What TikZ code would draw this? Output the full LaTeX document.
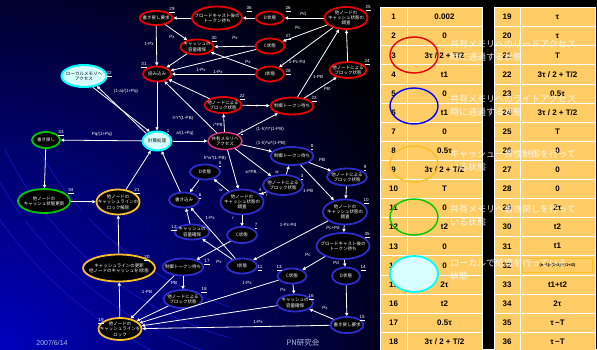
\documentclass[tikz,border=0pt]{standalone}
\usepackage{fontspec}
\setmainfont{Liberation Sans}
\newfontfamily\jp{Noto Sans CJK JP}
\usetikzlibrary{shapes.geometric,arrows.meta}
\definecolor{stred}{RGB}{235,0,0}
\definecolor{stblue}{RGB}{45,45,205}
\definecolor{stgreen}{RGB}{0,200,0}
\definecolor{storange}{RGB}{250,190,40}
\definecolor{stpink}{RGB}{225,50,125}
\definecolor{stcyan}{RGB}{0,255,255}
\definecolor{cyanfill}{RGB}{215,255,255}
\definecolor{cellbg}{RGB}{255,204,102}
\definecolor{bgblue}{RGB}{0,0,190}
\definecolor{arcblue}{RGB}{20,20,190}
\definecolor{dotblue}{RGB}{0,0,125}
\definecolor{foot}{RGB}{175,195,230}

\begin{document}
\begin{tikzpicture}[x=1pt,y=-1pt,
    st/.style={ellipse, line width=1.8pt, fill=black, inner sep=0pt},
    redst/.style={st, draw=stred},
    bluest/.style={st, draw=stblue},
    greenst/.style={st, draw=stgreen},
    orangest/.style={st, draw=storange},
    pinkst/.style={st, draw=stpink, line width=1.4pt},
    cyanst/.style={st, draw=stcyan, fill=cyanfill, line width=2pt},
    sz/.style 2 args={minimum width=#1, minimum height=#2},
    txt/.style={text=white, font=\jp\fontsize{4.5}{5.3}\selectfont, align=center, inner sep=0pt},
    dtxt/.style={txt, text=black},
    numlab/.style={text=white, font=\fontsize{4.5}{5}\selectfont, inner sep=0.3pt},
    elab/.style={text=white, font=\fontsize{4.5}{5}\selectfont, inner sep=0pt},
    conn/.style={draw=white, line width=0.8pt, -{Triangle[length=3.2pt,width=3.2pt]}},
    cell/.style={fill=cellbg, draw=white, line width=0.7pt},
    celltxt/.style={font=\bfseries\fontsize{8}{9}\selectfont, text=black, inner sep=0pt},
    key/.style={ellipse, line width=1.4pt, minimum width=48, minimum height=36},
    keytxt/.style={anchor=west, align=left, text=white, text opacity=0.85,
      font=\jp\fontsize{9}{13}\selectfont, inner sep=0pt},
    foottxt/.style={text=foot, font=\fontsize{7}{8}\selectfont, inner sep=0pt}]

  \useasboundingbox (0,0) rectangle (597,349);
  % background
  \fill[black] (0,0) rectangle (597,349);
  \begin{scope}
    \clip (0,0) rectangle (597,349);
    \shade[inner color=bgblue, outer color=black] (0,349) circle (460);
  \end{scope}
  \begin{scope}
    \clip (0,150) rectangle (230,349);
    \draw[arcblue, line width=0.7pt] (330,-10) circle (332) (330,-10) circle (362)
      (330,-10) circle (382) (330,-10) circle (402);
    \fill[dotblue] (23,217) circle (4) (88,212) circle (6) (164,335) circle (5);
  \end{scope}

  % read side
  \node[redst, sz={33}{14}, label={[txt]center:書き戻し要求}] (n29) at (156,18) {};
  \node[redst, sz={50}{23}, label={[txt]center:{ブロードキャスト後の\\トークン待ち}}] (n36) at (217,18) {};
  \node[redst, sz={28}{13}, label={[txt]center:D状態}] (n26) at (270,18) {};
  \node[redst, sz={43}{22}, label={[txt]center:{他ノードの\\キャッシュ状態の\\調査}}] (n25) at (346,18) {};
  \node[redst, sz={33}{15}, label={[txt]center:{キャッシュの\\容量確保}}] (n30) at (197,47) {};
  \node[redst, sz={29}{15}, label={[txt]center:C状態}] (n27) at (270,46) {};
  \node[redst, sz={28}{15}, label={[txt]center:I状態}] (n28) at (270,74) {};
  \node[redst, sz={28}{15}, label={[txt]center:読み込み}] (n31) at (157,74) {};
  \node[redst, sz={37}{16}, label={[txt]center:{他ノードによる\\ブロック状態}}] (n22) at (223,105) {};
  \node[redst, sz={43}{17}, label={[txt]center:制御トークン待ち}] (n23) at (292,106) {};
  \node[redst, sz={37}{16}, label={[txt]center:{他ノードによる\\ブロック状態}}] (n24) at (348,70) {};

  % local, compute, shared access
  \node[cyanst, sz={45}{22}, label={[dtxt]center:{ローカルメモリへ\\アクセス}}] (n32) at (84,76) {};
  \node[cyanst, sz={29}{19}, label={[dtxt]center:計算処理}] (n1) at (157,141) {};
  \node[pinkst, sz={34}{17}, label={[txt]center:{共有メモリへ\\アクセス}}] (n2) at (225,141) {};

  % write back, coherence
  \node[greenst, sz={28}{16}, label={[txt]center:書き戻し}] (n33) at (46,140) {};
  \node[greenst, sz={52}{24}, label={[txt]center:{他ノードの\\キャッシュ状態更新}}] (n34) at (44,201) {};
  \node[orangest, sz={43}{25}, label={[txt]center:{他ノードの\\キャッシュラインの\\ロック解除}}] (n21) at (118,202) {};
  \node[orangest, sz={72}{27}, label={[txt]center:{キャッシュラインの更新\\他ノードのキャッシュをI状態}}] (n20) at (119,268) {};
  \node[orangest, sz={43}{22}, label={[txt]center:{他ノードの\\キャッシュラインを\\ロック}}] (n19) at (120,329) {};

  % write side
  \node[bluest, sz={43}{18}, label={[txt]center:制御トークン待ち}] (n8) at (292,156) {};
  \node[bluest, sz={30}{15}, label={[txt]center:D状態}] (n5) at (205,172) {};
  \node[bluest, sz={40}{20}, label={[txt]center:{他ノードによる\\ブロック状態}}] (n3) at (283,185) {};
  \node[bluest, sz={40}{17}, label={[txt]center:{他ノードによる\\ブロック状態}}] (n9) at (347,177) {};
  \node[bluest, sz={43}{25}, label={[txt]center:{他ノードの\\キャッシュ状態の\\調査}}] (n4) at (242,202) {};
  \node[bluest, sz={30}{15}, label={[txt]center:書き込み}] (n6) at (184,200) {};
  \node[bluest, sz={44}{25}, label={[txt]center:{他ノードの\\キャッシュ状態の\\調査}}] (n10) at (345,212) {};
  \node[bluest, sz={35}{15}, label={[txt]center:{キャッシュの\\容量確保}}] (n12) at (192,232) {};
  \node[bluest, sz={30}{16}, label={[txt]center:C状態}] (n7) at (242,235) {};
  \node[bluest, sz={41}{17}, label={[txt]center:制御トークン待ち}] (n17) at (183,267) {};
  \node[bluest, sz={30}{15}, label={[txt]center:I状態}] (n11) at (242,266) {};
  \node[bluest, sz={39}{18}, label={[txt]center:{他ノードによる\\ブロック状態}}] (n18) at (183,299) {};
  \node[bluest, sz={53}{26}, label={[txt]center:{ブロードキャスト後の\\トークン待ち}}] (n35) at (343,246) {};
  \node[bluest, sz={29}{15}, label={[txt]center:C状態}] (n13) at (292,276) {};
  \node[bluest, sz={28}{17}, label={[txt]center:D状態}] (n14) at (346,276) {};
  \node[bluest, sz={36}{17}, label={[txt]center:{キャッシュの\\容量確保}}] (n16) at (295,303) {};
  \node[bluest, sz={33}{16}, label={[txt]center:書き戻し要求}] (n15) at (347,325) {};

  % state numbers
  \foreach \n/\x/\y in {29/172/10, 36/249/9, 26/288/9, 25/368/8, 30/214/39, 27/288/37,
      28/288/72, 31/144/65, 22/242/97, 23/314/99, 24/367/62, 32/109/74, 1/168/132,
      2/242/132, 33/61/133, 34/71/191, 21/137/191, 20/147/258, 19/101/321, 8/312/147,
      5/220/164, 3/302/177, 9/365/168, 4/260/191, 6/200/196, 10/366/201, 12/174/228,
      7/256/226, 17/207/262, 11/260/268, 18/204/290, 35/367/235, 13/279/268,
      14/363/268, 16/311/297, 15/362/318}
    \node[numlab] (l\n) at (\x,\y) {\underline{\n}};

  % read side connectors
  \draw[conn] (n26) -- (n36);
  \draw[conn] (n36) -- (n29);
  \draw[conn] (n25) -- (n26);
  \draw[conn] (n25) -- (n27);
  \draw[conn] (n25) -- (n28);
  \draw[conn] (n29) -- (n30);
  \draw[conn] (n29) -- (n31);
  \draw[conn] (n27) -- (n30);
  \draw[conn] (n27) -- (n31);
  \draw[conn] (n28) -- (n30);
  \draw[conn] (n28) -- (n31);
  \draw[conn] (n30) -- (n31);
  \draw[conn] (n24) -- (n25);
  \draw[conn] (n23) -- (n24);
  \draw[conn] (n23) -- (n25);
  \draw[conn] (n22) -- (n23);
  \draw[conn] (n22) -- (n31);
  \draw[conn] (n2) -- (n22);
  \draw[conn] (n2) -- (n23);
  \draw[conn] (n2) -- (n31);
  \draw[conn] (n31) -- (n1);
  \draw[conn] (n1.145) -- (n32.-38);
  \draw[conn] (n32.-52) -- (n1.128);
  \draw[conn] (n1) -- (n2);
  \draw[conn] (n1) -- (n33);
  \draw[conn] (n33) -- (n34);
  \draw[conn] (n34) -- (n21);
  \draw[conn] (n21) -- (n1);
  \draw[conn] (n20) -- (n21);
  \draw[conn] (n19) -- (n20);
  % write side connectors
  \draw[conn] (n2) -- (n8);
  \draw[conn] (n2) -- (n3);
  \draw[conn] (n2) -- (n4);
  \draw[conn] (n8) -- (n9);
  \draw[conn] (n8) -- (n10);
  \draw[conn] (n9) -- (n10);
  \draw[conn] (n10) -- (n35);
  \draw[conn] (n10) -- (n11);
  \draw[conn] (n3) -- (n8);
  \draw[conn] (n3) -- (n4);
  \draw[conn] (n4) -- (n5);
  \draw[conn] (n4) -- (n7);
  \draw[conn] (n5) -- (n6);
  \draw[conn] (n6) -- (n1);
  \draw[conn] (n12) -- (n6);
  \draw[conn] (n11) -- (n6);
  \draw[conn] (n11) -- (n12);
  \draw[conn] (n7) -- (n17);
  \draw[conn] (n17) -- (n18);
  \draw[conn] (n17) -- (n19);
  \draw[conn] (n18) -- (n19);
  \draw[conn] (n35) -- (n13);
  \draw[conn] (n35) -- (n14);
  \draw[conn] (n14) -- (n15);
  \draw[conn] (n13) -- (n16);
  \draw[conn] (n15) -- (n16);
  \draw[conn] (n13) -- (n19);
  \draw[conn] (n16) -- (n19);
  \draw[conn] (n15) -- (n19);

  % probabilities
  \foreach \t/\x/\y [count=\i] in {Pd/303/14, Pc/298/28, 1-Pc-Pd/297/62, Px/172/37,
      1-Px/149/44, Px/235/38, Px/248/62, 1-Px/201/70, 1-Px/218/72, PB/327/89,
      1-PB/318/77, r/257/106, r*PB/218/125, (1-h)*r*(1-PB)/270/129,
      (1-h)*w*(1-PB)/271/143, w*PB/251/172, h*w*(1-PB)/215/158, h*r*(1-PB)/183/118,
      {a/(1+Pq)}/185/133, {Pq/(1+Pq)}/102/134, {(1-a)/(1+Pq)}/126/91, PB/322/160,
      1-PB/308/191, w/277/172, r/267/195, w/221/190, r/233/218, 1-Px/210/218,
      Pc+Pd/333/228, 1-Pc-Pd/288/225, Pc/308/255, Pd/336/263, Px/283/290,
      Px/325/308, 1-Px/258/322, 1-Px/247/283, Px/219/262, PB/174/283, 1-PB/147/292}
    \node[elab] (e\i) at (\x,\y) {\t};

  % time table
  \foreach \v [count=\i] in {0.002, 0, {3τ / 2 + T/2}, t1, 0, t1, 0, 0.5τ,
      {3τ / 2 + T/2}, T, 0, t2, 0, 0, 2τ, t2, 0.5τ, {3τ / 2 + T/2}} {
    \pgfmathsetmacro\yt{7.5+(\i-1)*19.1}
    \pgfmathsetmacro\yb{\yt+19.1}
    \pgfmathsetmacro\ym{\yt+9.55}
    \draw[cell] (380,\yt) rectangle (407,\yb);
    \draw[cell] (407,\yt) rectangle (482,\yb);
    \node[celltxt] (a\i) at (393.5,\ym) {\i};
    \node[celltxt] (b\i) at (444.5,\ym) {\v};
  }
  \foreach \v [count=\i] in {τ, τ, T, {3τ / 2 + T/2}, 0.5τ, {3τ / 2 + T/2}, T, 0, 0,
      0, 2τ, t2, t1, {}, t1+t2, 2τ, τ\,−T, τ\,−T} {
    \pgfmathsetmacro\yt{7.5+(\i-1)*19.1}
    \pgfmathsetmacro\yb{\yt+19.1}
    \pgfmathsetmacro\ym{\yt+9.55}
    \pgfmathtruncatemacro\n{\i+18}
    \draw[cell] (494,\yt) rectangle (520,\yb);
    \draw[cell] (520,\yt) rectangle (595,\yb);
    \node[celltxt] (c\i) at (507,\ym) {\n};
    \node[celltxt] (d\i) at (557.5,\ym) {\v};
  }
  \node[draw=storange, line width=0.6pt, minimum width=70, minimum height=14,
    inner sep=0pt, font=\bfseries\fontsize{4}{5}\selectfont] (r32) at (557.5,265) {(n−1)×(1+λ)×(t1+t2)};

  % legend
  \node[key, draw=stred] (k1) at (414,55) {};
  \node[key, draw=blue] (k2) at (414,106) {};
  \node[key, draw=storange] (k3) at (414,164) {};
  \node[key, draw=stgreen] (k4) at (414,217) {};
  \node[key, draw=stcyan, fill=cyanfill, line width=1.8pt] (k5) at (414,274) {};
  \node[keytxt] (t1) at (450,51) {共有メモリへのリードアクセス\\時に通過する状態};
  \node[keytxt] (t2) at (450,106) {共有メモリへのライトアクセス\\時に通過する状態};
  \node[keytxt] (t3) at (450,161) {キャッシュ一貫性制御を行って\\いる状態};
  \node[keytxt] (t4) at (450,216) {共有メモリへ書き戻しを行って\\いる状態};
  \node[keytxt] (t5) at (450,270) {ローカルで処理を行っている\\状態};

  % footer
  \node[foottxt] (date) at (52,343) {2007/6/14};
  \node[foottxt, font=\jp\fontsize{7.5}{8}\selectfont] (pn) at (303,343) {PN研究会};
\end{tikzpicture}
\end{document}
